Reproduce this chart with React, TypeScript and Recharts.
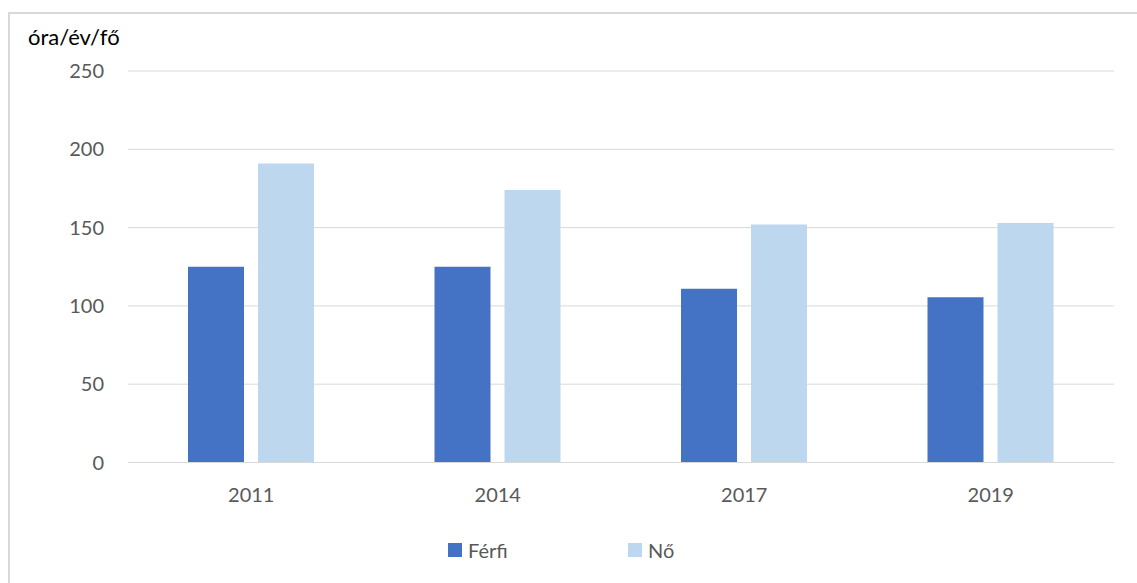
import React from 'react';
import { BarChart, Bar, XAxis, YAxis, CartesianGrid } from 'recharts';

const categories = ['2011', '2014', '2017', '2019'];
const ferfiValues = [125, 125, 111, 105.5];
const noValues = [191, 174, 152, 153];
const yTicks = [0, 50, 100, 150, 200, 250];
const seriesNames = ['Férfi', 'Nő'];
const seriesColors = ['#4472C4', '#BDD7EE'];
const yTitle = 'óra/év/fő';

const data = categories.map((c, i) => ({ year: c, ferfi: ferfiValues[i], no: noValues[i] }));

const FONT = 'Lato, "Open Sans", sans-serif';

export default function App() {
  return (
    <div
      style={{
        position: 'absolute',
        left: 8,
        top: 12,
        width: 1127,
        height: 569,
        borderTop: '2px solid #d9d9d9',
        borderLeft: '2px solid #d9d9d9',
        background: '#fff',
        fontFamily: FONT,
      }}
    >
      <div
        style={{
          position: 'absolute',
          left: 18,
          top: 11,
          fontSize: 22,
          lineHeight: '24px',
          color: '#000',
          whiteSpace: 'nowrap',
        }}
      >
        {yTitle}
      </div>
      <BarChart
        width={1127}
        height={569}
        data={data}
        margin={{ top: 57, right: 23, left: 0, bottom: 60.5 }}
        barSize={56}
        barGap={14}
      >
        <CartesianGrid vertical={false} stroke="#d9d9d9" strokeWidth={1} />
        <XAxis
          dataKey="year"
          height={60}
          tickLine={false}
          tickSize={0}
          tickMargin={25}
          axisLine={{ stroke: '#d9d9d9', strokeWidth: 1 }}
          tick={{ fill: '#595959', fontSize: 20, fontFamily: FONT }}
        />
        <YAxis
          width={118}
          domain={[0, 250]}
          ticks={yTicks}
          interval={0}
          axisLine={false}
          tickLine={false}
          tickSize={0}
          tickMargin={24}
          tick={{ fill: '#595959', fontSize: 20, fontFamily: FONT }}
        />
        <Bar dataKey="ferfi" name={seriesNames[0]} fill={seriesColors[0]} isAnimationActive={false} />
        <Bar dataKey="no" name={seriesNames[1]} fill={seriesColors[1]} isAnimationActive={false} />
      </BarChart>
      <div
        style={{
          position: 'absolute',
          left: 438,
          top: 524,
          display: 'flex',
          fontSize: 20,
          lineHeight: '24px',
          color: '#595959',
        }}
      >
        {seriesNames.map((n, i) => (
          <div key={n} style={{ width: 180, display: 'flex', alignItems: 'center' }}>
            <span
              style={{
                display: 'inline-block',
                width: 14,
                height: 14,
                background: seriesColors[i],
                marginRight: 6,
              }}
            />
            <span>{n}</span>
          </div>
        ))}
      </div>
    </div>
  );
}
